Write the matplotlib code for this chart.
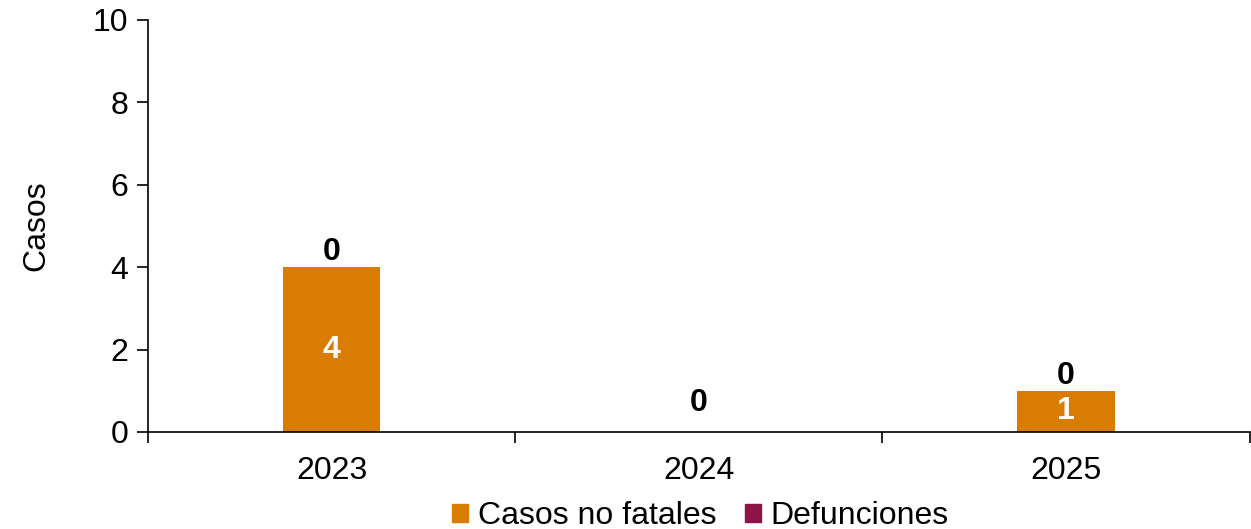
import matplotlib.pyplot as plt
from matplotlib.patches import Patch
import numpy as np

plt.rcParams['font.family'] = ['Liberation Sans', 'DejaVu Sans']

# datos
years = ["2023", "2024", "2025"]
no_fatales = [4, 0, 1]
defunciones = [0, 0, 0]

color_nf = "#DA7C02"
color_def = "#8C1448"
fs = 23

fig = plt.figure(figsize=(12.51, 5.29), dpi=100)
ax = fig.add_axes([0.1183, 0.1834, 0.8807, 0.7788])

x = np.arange(len(years))
width = 0.265
ax.bar(x, no_fatales, width, color=color_nf, label="Casos no fatales")
ax.bar(x, defunciones, width, bottom=no_fatales, color=color_def, label="Defunciones")

# etiquetas de datos
for i in range(len(years)):
    nf = no_fatales[i]
    d = defunciones[i]
    if nf > 0:
        ax.text(x[i], nf / 2, str(nf), ha="center", va="center",
                color="white", fontsize=fs, fontweight="bold")
    top = nf + d
    off = 11 if top > 0 else 21
    ax.annotate(str(d), (x[i], top), xytext=(0, off), textcoords="offset points",
                ha="center", va="center", color="black", fontsize=fs, fontweight="bold")

ax.set_ylim(0, 10)
ax.set_yticks(range(0, 11, 2))
ax.set_xlim(-0.5, len(years) - 0.5)
ax.set_xticks(np.arange(-0.5, len(years), 1.0))
ax.set_xticklabels([])
ax.set_xticks(x, minor=True)
ax.set_xticklabels(years, minor=True)
ax.tick_params(axis="x", which="major", length=8, width=1.2, direction="out")
ax.tick_params(axis="x", which="minor", length=0, labelsize=fs, pad=17)
ax.tick_params(axis="y", length=8, width=1.2, labelsize=fs, pad=6)

ax.spines["top"].set_visible(False)
ax.spines["right"].set_visible(False)
ax.spines["left"].set_linewidth(1.2)
ax.spines["bottom"].set_linewidth(1.2)

ax.set_ylabel("Casos", fontsize=fs, labelpad=30)

handles = [Patch(color=color_nf), Patch(color=color_def)]
fig.legend(handles, ["Casos no fatales", "Defunciones"], loc="center",
           bbox_to_anchor=(0.56, 0.024), ncol=2, frameon=False, fontsize=fs,
           handlelength=0.5, handleheight=0.5, handletextpad=0.3,
           columnspacing=0.9)

fig.savefig("out.png", dpi=100)
